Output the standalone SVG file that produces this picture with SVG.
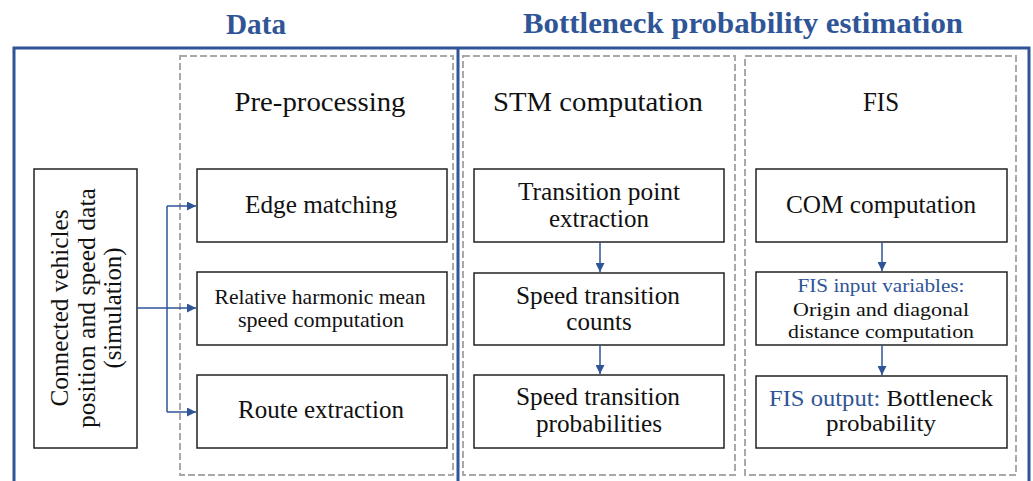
<svg xmlns="http://www.w3.org/2000/svg" width="1033" height="481" viewBox="0 0 1033 481">
<style>
.title{font-family:"Liberation Serif","Times New Roman",serif;font-weight:bold;fill:#2F5597;text-anchor:middle}
.t{font-family:"Liberation Serif","Times New Roman",serif;fill:#111;text-anchor:middle}
.blue{fill:#2F5597}
.box{fill:#fff;stroke:#222;stroke-width:1.5}
.dash{fill:none;stroke:#A9A9A9;stroke-width:2;stroke-dasharray:7 3}
.frame{fill:none;stroke:#2F5597;stroke-width:3}
.conn{fill:none;stroke:#2F5597;stroke-width:1.5}
</style>
<defs>
<marker id="arr" viewBox="0 0 10 10" refX="10" refY="5" markerWidth="6" markerHeight="6" markerUnits="strokeWidth" orient="auto">
<path d="M0,0 L10,5 L0,10 z" fill="#2F5597"/>
</marker>
</defs>
<rect width="1033" height="481" fill="#fff"/>
<g id="titles">
<text class="title" x="256" y="34" font-size="29" textLength="60" lengthAdjust="spacingAndGlyphs">Data</text>
<text class="title" x="743" y="33" font-size="30" textLength="440" lengthAdjust="spacingAndGlyphs">Bottleneck probability estimation</text>
</g>
<g id="frame">
<rect class="frame" x="14" y="48" width="1015" height="460"/>
<line class="frame" x1="458" y1="48" x2="458" y2="490"/>
</g>
<g id="preprocessing">
<rect class="dash" x="180" y="56" width="273" height="419"/>
<text class="t" x="320" y="111" font-size="28" textLength="171" lengthAdjust="spacingAndGlyphs">Pre-processing</text>
</g>
<g id="stm">
<rect class="dash" x="463" y="56" width="272" height="419"/>
<text class="t" x="598" y="111" font-size="28" textLength="210" lengthAdjust="spacingAndGlyphs">STM computation</text>
</g>
<g id="fis">
<rect class="dash" x="745" y="56" width="271" height="419"/>
<text class="t" x="881" y="111" font-size="28" textLength="36" lengthAdjust="spacingAndGlyphs">FIS</text>
</g>
<g id="source">
<rect class="box" x="34" y="169" width="103" height="279"/>
<g transform="rotate(-90 0 0)">
<text class="t" x="-308" y="68" font-size="25" textLength="197" lengthAdjust="spacingAndGlyphs">Connected vehicles</text>
<text class="t" x="-308" y="95" font-size="25" textLength="240" lengthAdjust="spacingAndGlyphs">position and speed data</text>
<text class="t" x="-308" y="121" font-size="25" textLength="121" lengthAdjust="spacingAndGlyphs">(simulation)</text>
</g>
</g>
<g id="edge-matching">
<rect class="box" x="197" y="169" width="250" height="73"/>
<text class="t" x="321" y="213" font-size="25" textLength="152" lengthAdjust="spacingAndGlyphs">Edge matching</text>
</g>
<g id="harmonic">
<rect class="box" x="197" y="272" width="250" height="73"/>
<text class="t" x="320" y="304" font-size="22" textLength="211" lengthAdjust="spacingAndGlyphs">Relative harmonic mean</text>
<text class="t" x="321" y="327" font-size="22" textLength="166" lengthAdjust="spacingAndGlyphs">speed computation</text>
</g>
<g id="route">
<rect class="box" x="197" y="375" width="250" height="73"/>
<text class="t" x="321" y="418" font-size="25" textLength="166" lengthAdjust="spacingAndGlyphs">Route extraction</text>
</g>
<g id="transition-point">
<rect class="box" x="474" y="169" width="250" height="73"/>
<text class="t" x="599" y="200" font-size="25" textLength="162" lengthAdjust="spacingAndGlyphs">Transition point</text>
<text class="t" x="599" y="227" font-size="25" textLength="100" lengthAdjust="spacingAndGlyphs">extraction</text>
</g>
<g id="transition-counts">
<rect class="box" x="474" y="273" width="250" height="72"/>
<text class="t" x="598" y="304" font-size="25" textLength="164" lengthAdjust="spacingAndGlyphs">Speed transition</text>
<text class="t" x="599" y="330" font-size="25">counts</text>
</g>
<g id="transition-probs">
<rect class="box" x="474" y="375" width="250" height="73"/>
<text class="t" x="598" y="405" font-size="25" textLength="164" lengthAdjust="spacingAndGlyphs">Speed transition</text>
<text class="t" x="599" y="432" font-size="25" textLength="126" lengthAdjust="spacingAndGlyphs">probabilities</text>
</g>
<g id="com">
<rect class="box" x="756" y="169" width="251" height="73"/>
<text class="t" x="881" y="213" font-size="25" textLength="190" lengthAdjust="spacingAndGlyphs">COM computation</text>
</g>
<g id="fis-input">
<rect class="box" x="756" y="272" width="251" height="73"/>
<text class="t blue" x="881" y="292" font-size="19" textLength="167" lengthAdjust="spacingAndGlyphs">FIS input variables:</text>
<text class="t" x="881" y="316" font-size="19" textLength="176" lengthAdjust="spacingAndGlyphs">Origin and diagonal</text>
<text class="t" x="881" y="338" font-size="19" textLength="186" lengthAdjust="spacingAndGlyphs">distance computation</text>
</g>
<g id="fis-output">
<rect class="box" x="756" y="376" width="251" height="72"/>
<text class="t" x="881" y="406" font-size="23" textLength="224" lengthAdjust="spacingAndGlyphs"><tspan class="blue">FIS output: </tspan>Bottleneck</text>
<text class="t" x="881" y="431" font-size="23" textLength="110" lengthAdjust="spacingAndGlyphs">probability</text>
</g>
<g id="connectors">
<polyline class="conn" points="137,308 167,308"/>
<line class="conn" x1="167" y1="206" x2="167" y2="412"/>
<line class="conn" x1="167" y1="206" x2="196" y2="206" marker-end="url(#arr)"/>
<line class="conn" x1="167" y1="308" x2="196" y2="308" marker-end="url(#arr)"/>
<line class="conn" x1="167" y1="412" x2="196" y2="412" marker-end="url(#arr)"/>
<line class="conn" x1="600" y1="242" x2="600" y2="272" marker-end="url(#arr)"/>
<line class="conn" x1="600" y1="345" x2="600" y2="374" marker-end="url(#arr)"/>
<line class="conn" x1="882" y1="242" x2="882" y2="271" marker-end="url(#arr)"/>
<line class="conn" x1="882" y1="345" x2="882" y2="375" marker-end="url(#arr)"/>
</g>
</svg>
